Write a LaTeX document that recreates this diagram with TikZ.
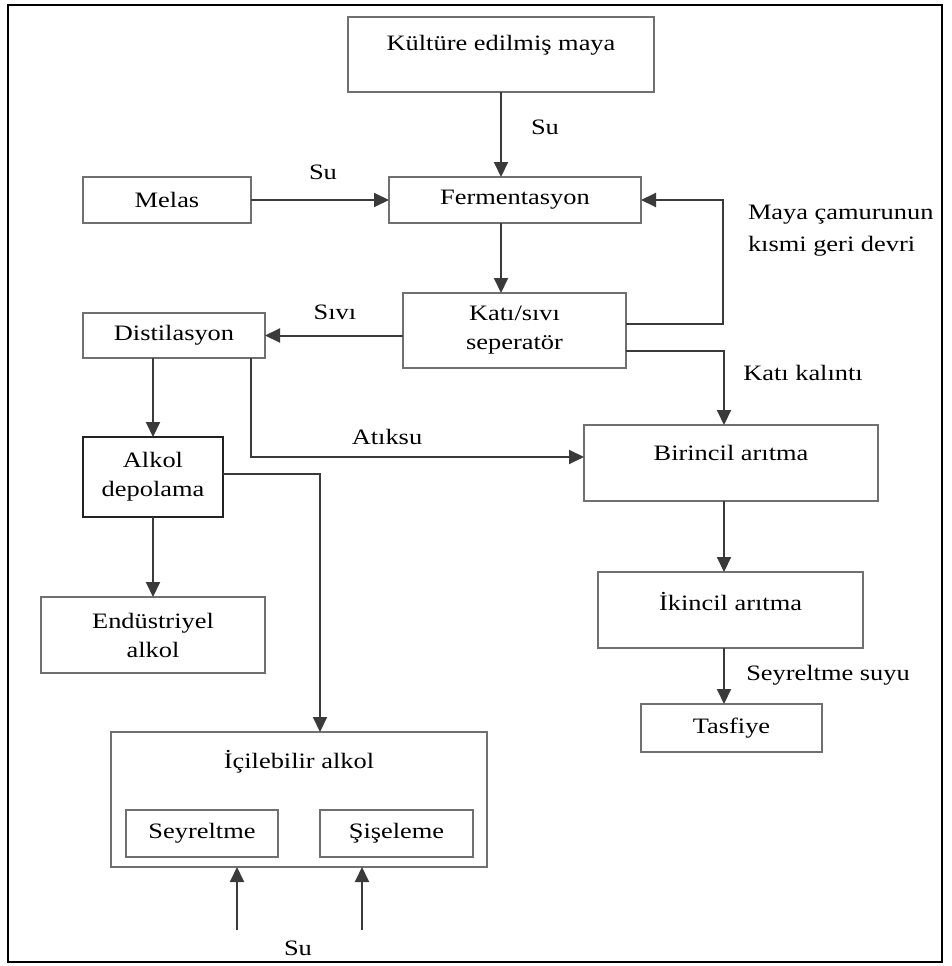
\documentclass[tikz,border=0pt]{standalone}
\usepackage{fontspec}
\setmainfont[FakeStretch=1.2]{Liberation Serif}
\usetikzlibrary{arrows.meta}
\definecolor{boxgray}{RGB}{112,112,112}
\definecolor{linegray}{RGB}{58,58,58}
\definecolor{darkbox}{RGB}{34,34,34}
\begin{document}
\begin{tikzpicture}[x=1pt,y=-1pt,
  every node/.style={inner sep=0pt, outer sep=0pt},
  txt/.style={font=\fontsize{22}{29}\selectfont, align=center},
  stage/.style={txt, draw=boxgray, line width=2.2pt, fill=white, anchor=north west},
  conn/.style={draw=linegray, line width=2pt, -{Triangle[length=15pt,width=14pt]}}
]
\useasboundingbox (0,0) rectangle (951,966);
\draw[line width=2.4pt] (8,5) rectangle (942,962);

% process stages
\node[stage, minimum width=306pt, minimum height=75pt] (kultur) at (348,17) {};
\node[txt] (kulturtxt) at ([yshift=-28pt]kultur.north) {Kültüre edilmiş maya};
\node[stage, minimum width=168pt, minimum height=46pt] (melas) at (83,177) {Melas};
\node[stage, minimum width=252pt, minimum height=46pt] (ferm) at (389,177) {Fermentasyon};
\node[stage, minimum width=223pt, minimum height=75pt] (kati) at (403,293) {Katı/sıvı\\seperatör};
\node[stage, minimum width=182pt, minimum height=45pt] (distil) at (83,313) {Distilasyon};
\node[stage, draw=darkbox, line width=1.6pt, minimum width=140pt, minimum height=80pt] (alkol) at (83,437) {Alkol\\depolama};
\node[stage, minimum width=294pt, minimum height=76pt] (birincil) at (584,425) {};
\node[txt] (birinciltxt) at ([yshift=-28pt]birincil.north) {Birincil arıtma};
\node[stage, minimum width=224pt, minimum height=76pt] (endus) at (41,597) {Endüstriyel\\alkol};
\node[stage, minimum width=265pt, minimum height=76pt] (ikincil) at (598,572) {};
\node[txt] (ikinciltxt) at ([yshift=-30pt]ikincil.north) {İkincil arıtma};
\node[stage, minimum width=181pt, minimum height=48pt] (tasfiye) at (641,704) {Tasfiye};
\node[stage, minimum width=376pt, minimum height=135pt] (icil) at (111,732) {};
\node[txt] (iciltxt) at ([yshift=-30pt]icil.north) {İçilebilir alkol};
\node[stage, minimum width=152pt, minimum height=47pt] (seyrel) at (126,810) {Seyreltme};
\node[stage, minimum width=153pt, minimum height=47pt] (sise) at (320,810) {Şişeleme};

% flows
\draw[conn] (kultur.south) -- (kultur.south |- ferm.north);
\draw[conn] (melas.east) -- (melas.east -| ferm.west);
\draw[conn] (kultur.south |- ferm.south) -- (kultur.south |- kati.north);
\draw[conn] ([yshift=6.5pt]kati.east) -| ([xshift=82pt]ferm.east) -- (ferm.east);
\draw[conn] (kati.west |- distil.east) -- (distil.east);
\draw[conn] (alkol.north |- distil.south) -- (alkol.north);
\draw[conn] ([xshift=77pt]distil.south) |- ([yshift=6pt]birincil.west);
\draw[conn] ([yshift=-20.5pt]kati.east) -| ([xshift=-7pt]birincil.north);
\draw[conn] ([yshift=3pt]alkol.east) -| ([xshift=21pt]icil.north);
\draw[conn] (alkol.south) -- (endus.north);
\draw[conn] ([xshift=-7pt]birincil.south) -- ([xshift=-7pt]birincil.south |- ikincil.north);
\draw[conn] ([xshift=-7pt]birincil.south |- ikincil.south) -- ([xshift=-7pt]birincil.south |- tasfiye.north);
\coordinate (suA) at (237,930);
\coordinate (suB) at (362,930);
\draw[conn] (suA) -- (suA |- icil.south);
\draw[conn] (suB) -- (suB |- icil.south);

% flow labels
\node[txt] (lsu1) at (545,127) {Su};
\node[txt] (lsu2) at (323,172) {Su};
\node[txt, anchor=west, align=left, font=\fontsize{22}{32}\selectfont] (lmaya) at (748,231) {Maya çamurunun\\kısmi geri devri};
\node[txt] (lsivi) at (335,312) {Sıvı};
\node[txt] (latik) at (387,437) {Atıksu};
\node[txt] (lkati) at (803,373) {Katı kalıntı};
\node[txt] (lseyr) at (828,675) {Seyreltme suyu};
\node[txt] (lsu3) at (298,948) {Su};
\end{tikzpicture}
\end{document}
